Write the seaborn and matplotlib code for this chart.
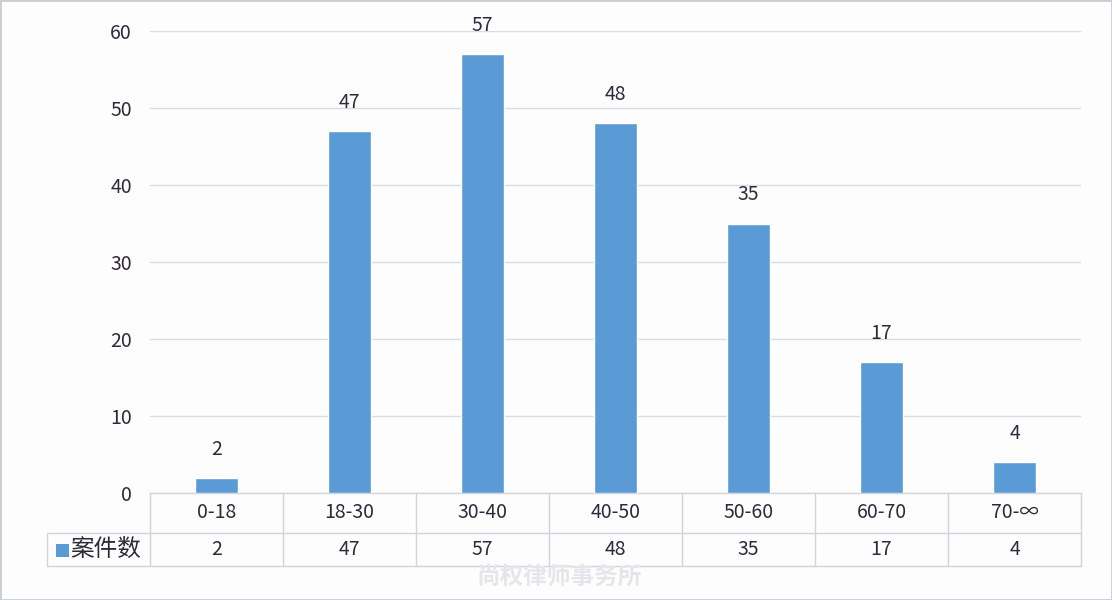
import matplotlib
matplotlib.use("Agg")
import matplotlib.pyplot as plt
import seaborn as sns
import pandas as pd
from matplotlib.transforms import blended_transform_factory
from matplotlib.patches import Rectangle

categories = ["0-18", "18-30", "30-40", "40-50", "50-60", "60-70", "70-∞"]
counts = [2, 47, 57, 48, 35, 17, 4]
series_name = "案件数"
yticks = [0, 10, 20, 30, 40, 50, 60]

sns.set_theme(style="white")
plt.rcParams['font.family'] = ['Noto Sans CJK SC', 'DejaVu Sans']

BLUE = "#5B9BD5"
TXT = "#2e2a3a"
GRID = "#d9dde3"
TABLE = "#d0d4dc"
FS = 14

fig = plt.figure(figsize=(11.12, 6.0), dpi=100)
fig.patch.set_facecolor("#fdfdfe")
W, H = 1112, 600
ax = fig.add_axes([150 / W, 1 - 493 / H, (1081 - 150) / W, (493 - 31) / H])
ax.set_facecolor("none")

df = pd.DataFrame({"cat": categories, "val": counts})
sns.barplot(data=df, x="cat", y="val", color=BLUE, width=0.32, ax=ax,
            saturation=1, zorder=3)
ax.set_ylim(0, 60)
ax.set_xlim(-0.5, len(categories) - 0.5)
ax.set_yticks(yticks)
ax.set_yticklabels([str(t) for t in yticks], fontsize=FS, color=TXT)
ax.tick_params(axis="y", length=0, pad=13)
ax.set_xticks([])
ax.set_xlabel("")
ax.set_ylabel("")
ax.yaxis.grid(True, color=GRID, linewidth=1)
ax.set_axisbelow(True)
for s in ax.spines.values():
    s.set_visible(False)

for c in ax.containers:
    ax.bar_label(c, labels=[str(v) for v in counts], padding=13,
                 fontsize=FS, color=TXT)

# data table below the axes
tr = blended_transform_factory(ax.transData, ax.transAxes)
ph = 493 - 31
row1_bot = -(533 - 493) / ph
row2_bot = -(566 - 493) / ph
n = len(categories)
kw = dict(color=TABLE, linewidth=1, clip_on=False, transform=tr, zorder=1)
ax.plot([-0.5, n - 0.5], [0, 0], **kw)
ax.plot([-0.5 - 103 / 133, n - 0.5], [row1_bot, row1_bot], **kw)
ax.plot([-0.5 - 103 / 133, n - 0.5], [row2_bot, row2_bot], **kw)
for i in range(n + 1):
    ax.plot([i - 0.5, i - 0.5], [0, row2_bot], **kw)
ax.plot([-0.5 - 103 / 133] * 2, [row1_bot, row2_bot], **kw)

for i, (cat, v) in enumerate(zip(categories, counts)):
    ax.text(i, (0 + row1_bot) / 2, cat, transform=tr, ha="center", va="center",
            fontsize=FS, color=TXT)
    ax.text(i, (row1_bot + row2_bot) / 2, str(v), transform=tr, ha="center",
            va="center", fontsize=FS, color=TXT)

# legend cell
ymid = (row1_bot + row2_bot) / 2
ax.add_patch(Rectangle((-0.5 - 94 / 133, ymid - 7 / ph), 13 / 133, 13 / ph,
                       transform=tr, facecolor=BLUE, edgecolor="none",
                       clip_on=False))
ax.text(-0.5 - 80 / 133, ymid, series_name, transform=tr, ha="left",
        va="center", fontsize=17, color=TXT)

# watermark
fig.text(477 / W, 1 - 577 / H, "尚权律师事务所", fontsize=17, color="#e6e6ea",
         ha="left", va="center", fontweight="bold")

# outer frame
fig.add_artist(Rectangle((0, 0), 1, 1, transform=fig.transFigure,
                         fill=False, edgecolor="#c9ccd2", linewidth=2))

fig.savefig("out.png", dpi=100, facecolor=fig.get_facecolor())
